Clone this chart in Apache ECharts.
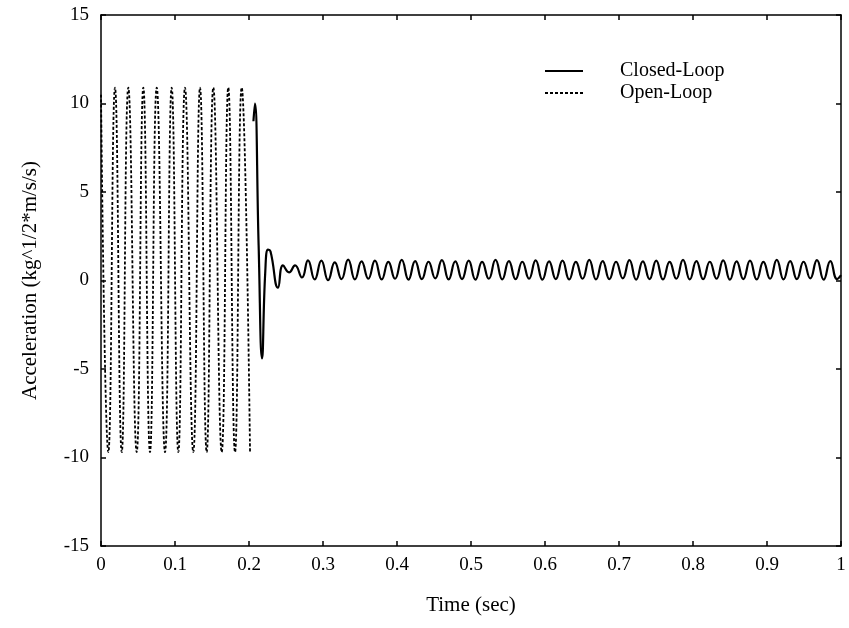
<!DOCTYPE html>
<html>
<head>
<meta charset="utf-8">
<script src="https://cdn.jsdelivr.net/npm/echarts@6/dist/echarts.min.js"></script>
<style>html,body{margin:0;padding:0;background:#fff}#c{width:849px;height:628px}</style>
</head>
<body>
<div id="c"></div>
<script>
// ---- data ----
var xTicks = [0, 0.1, 0.2, 0.3, 0.4, 0.5, 0.6, 0.7, 0.8, 0.9, 1];
var yTicks = [-15, -10, -5, 0, 5, 10, 15];

var openTime = [0, 0.0099, 0.0189, 0.0280, 0.0369, 0.0482, 0.0572, 0.0662, 0.0753, 0.0865, 0.0955,
  0.1045, 0.1135, 0.1247, 0.1338, 0.1428, 0.1518, 0.1631, 0.1720, 0.1811, 0.1901, 0.2014];
var openAccel = [10.5, -9.7, 10.9, -9.7, 10.9, -9.7, 10.9, -9.7, 10.9, -9.7, 10.9,
  -9.7, 10.9, -9.7, 10.9, -9.7, 10.9, -9.7, 10.9, -9.7, 10.9, -9.7];

var closedTime = [0.2060, 0.2080, 0.2130, 0.2176, 0.2220, 0.2257, 0.2290, 0.2392, 0.2459, 0.2541, 0.2622, 0.2716,
  0.2797, 0.2888, 0.2978, 0.3069, 0.3159, 0.3250, 0.3340, 0.3431, 0.3521, 0.3612,
  0.3702, 0.3793, 0.3883, 0.3974, 0.4064, 0.4155, 0.4245, 0.4336, 0.4426, 0.4517,
  0.4607, 0.4698, 0.4788, 0.4879, 0.4969, 0.5060, 0.5150, 0.5241, 0.5331, 0.5422,
  0.5512, 0.5603, 0.5693, 0.5784, 0.5874, 0.5965, 0.6055, 0.6146, 0.6236, 0.6327,
  0.6417, 0.6508, 0.6598, 0.6689, 0.6779, 0.6870, 0.6960, 0.7051, 0.7141, 0.7232,
  0.7322, 0.7413, 0.7503, 0.7594, 0.7684, 0.7775, 0.7865, 0.7956, 0.8046, 0.8137,
  0.8227, 0.8318, 0.8408, 0.8499, 0.8589, 0.8680, 0.8770, 0.8861, 0.8951, 0.9042,
  0.9132, 0.9223, 0.9313, 0.9404, 0.9494, 0.9585, 0.9675, 0.9766, 0.9856, 0.9947, 1.0000];
var closedAccel = [9.0, 10.0, 2.0, -4.4, 0.5, 1.75, 1.65, -0.4, 0.85, 0.46, 0.85, 0.17,
  1.14, 0.06, 1.12, 0.02, 1.02, 0.08, 1.18, 0.06, 1.08, 0.10,
  1.12, 0.06, 1.05, 0.10, 1.16, 0.05, 1.10, 0.08, 1.06, 0.12,
  1.15, 0.06, 1.08, 0.08, 1.12, 0.05, 1.05, 0.10, 1.16, 0.06,
  1.10, 0.08, 1.06, 0.10, 1.14, 0.05, 1.08, 0.08, 1.12, 0.06,
  1.05, 0.10, 1.16, 0.06, 1.10, 0.08, 1.06, 0.12, 1.15, 0.05,
  1.08, 0.08, 1.12, 0.06, 1.05, 0.10, 1.16, 0.06, 1.10, 0.08,
  1.06, 0.10, 1.14, 0.05, 1.08, 0.08, 1.12, 0.06, 1.05, 0.10,
  1.16, 0.06, 1.10, 0.08, 1.06, 0.12, 1.15, 0.05, 1.10, 0.08, 0.30];

var seriesNames = ['Closed-Loop', 'Open-Loop'];
var xName = 'Time (sec)';
var yName = 'Acceleration (kg^1/2*m/s/s)';

function pairs(t, v) { return t.map(function (x, i) { return [x, v[i]]; }); }

var FONT = 'Liberation Serif';
var chart = echarts.init(document.getElementById('c'), null, { renderer: 'canvas' });
var axisLine = { show: true, onZero: false, lineStyle: { color: '#000', width: 1.5 } };
var axisTick = { show: true, inside: true, length: 5, lineStyle: { color: '#000', width: 1.5 } };
var lbl = { color: '#000', fontFamily: FONT, fontSize: 19 };

chart.setOption({
  animation: false,
  backgroundColor: '#fff',
  grid: { left: 101, right: 8, top: 15, bottom: 82, containLabel: false },
  legend: {
    orient: 'vertical', left: 539, top: 56, itemGap: 2,
    itemWidth: 38, itemHeight: 14,
    itemStyle: { opacity: 0 },
    textStyle: { color: '#000', fontFamily: FONT, fontSize: 20, padding: [0, 0, 0, 32] },
    data: [{ name: seriesNames[0] }, { name: seriesNames[1] }]
  },
  xAxis: [{
    type: 'value', min: xTicks[0], max: xTicks[xTicks.length - 1], interval: 0.1,
    axisLine: axisLine, axisTick: axisTick, splitLine: { show: false },
    axisLabel: Object.assign({ margin: 10 }, lbl),
    name: xName, nameLocation: 'middle', nameGap: 49,
    nameTextStyle: { color: '#000', fontFamily: FONT, fontSize: 21 }
  }, {
    type: 'value', position: 'top', min: 0, max: 1, interval: 0.1,
    axisLine: axisLine, axisTick: axisTick, splitLine: { show: false }, axisLabel: { show: false }
  }],
  yAxis: [{
    type: 'value', min: yTicks[0], max: yTicks[yTicks.length - 1], interval: 5,
    axisLine: axisLine, axisTick: axisTick, splitLine: { show: false },
    axisLabel: Object.assign({ margin: 12 }, lbl),
    name: yName, nameLocation: 'middle', nameGap: 60, nameRotate: 90,
    nameTextStyle: { color: '#000', fontFamily: FONT, fontSize: 21 }
  }, {
    type: 'value', position: 'right', min: -15, max: 15, interval: 5,
    axisLine: axisLine, axisTick: axisTick, splitLine: { show: false }, axisLabel: { show: false }
  }],
  series: [{
    name: seriesNames[0], type: 'line', showSymbol: false, symbol: 'none', smooth: 0.5,
    lineStyle: { color: '#000', width: 2.2, type: 'solid' }, itemStyle: { color: '#000' },
    data: pairs(closedTime, closedAccel), z: 3
  }, {
    name: seriesNames[1], type: 'line', showSymbol: false, symbol: 'none', smooth: 0.5,
    lineStyle: { color: '#000', width: 1.8, type: [3, 2] }, itemStyle: { color: '#000' },
    data: pairs(openTime, openAccel), z: 2
  }]
});
</script>
</body>
</html>
